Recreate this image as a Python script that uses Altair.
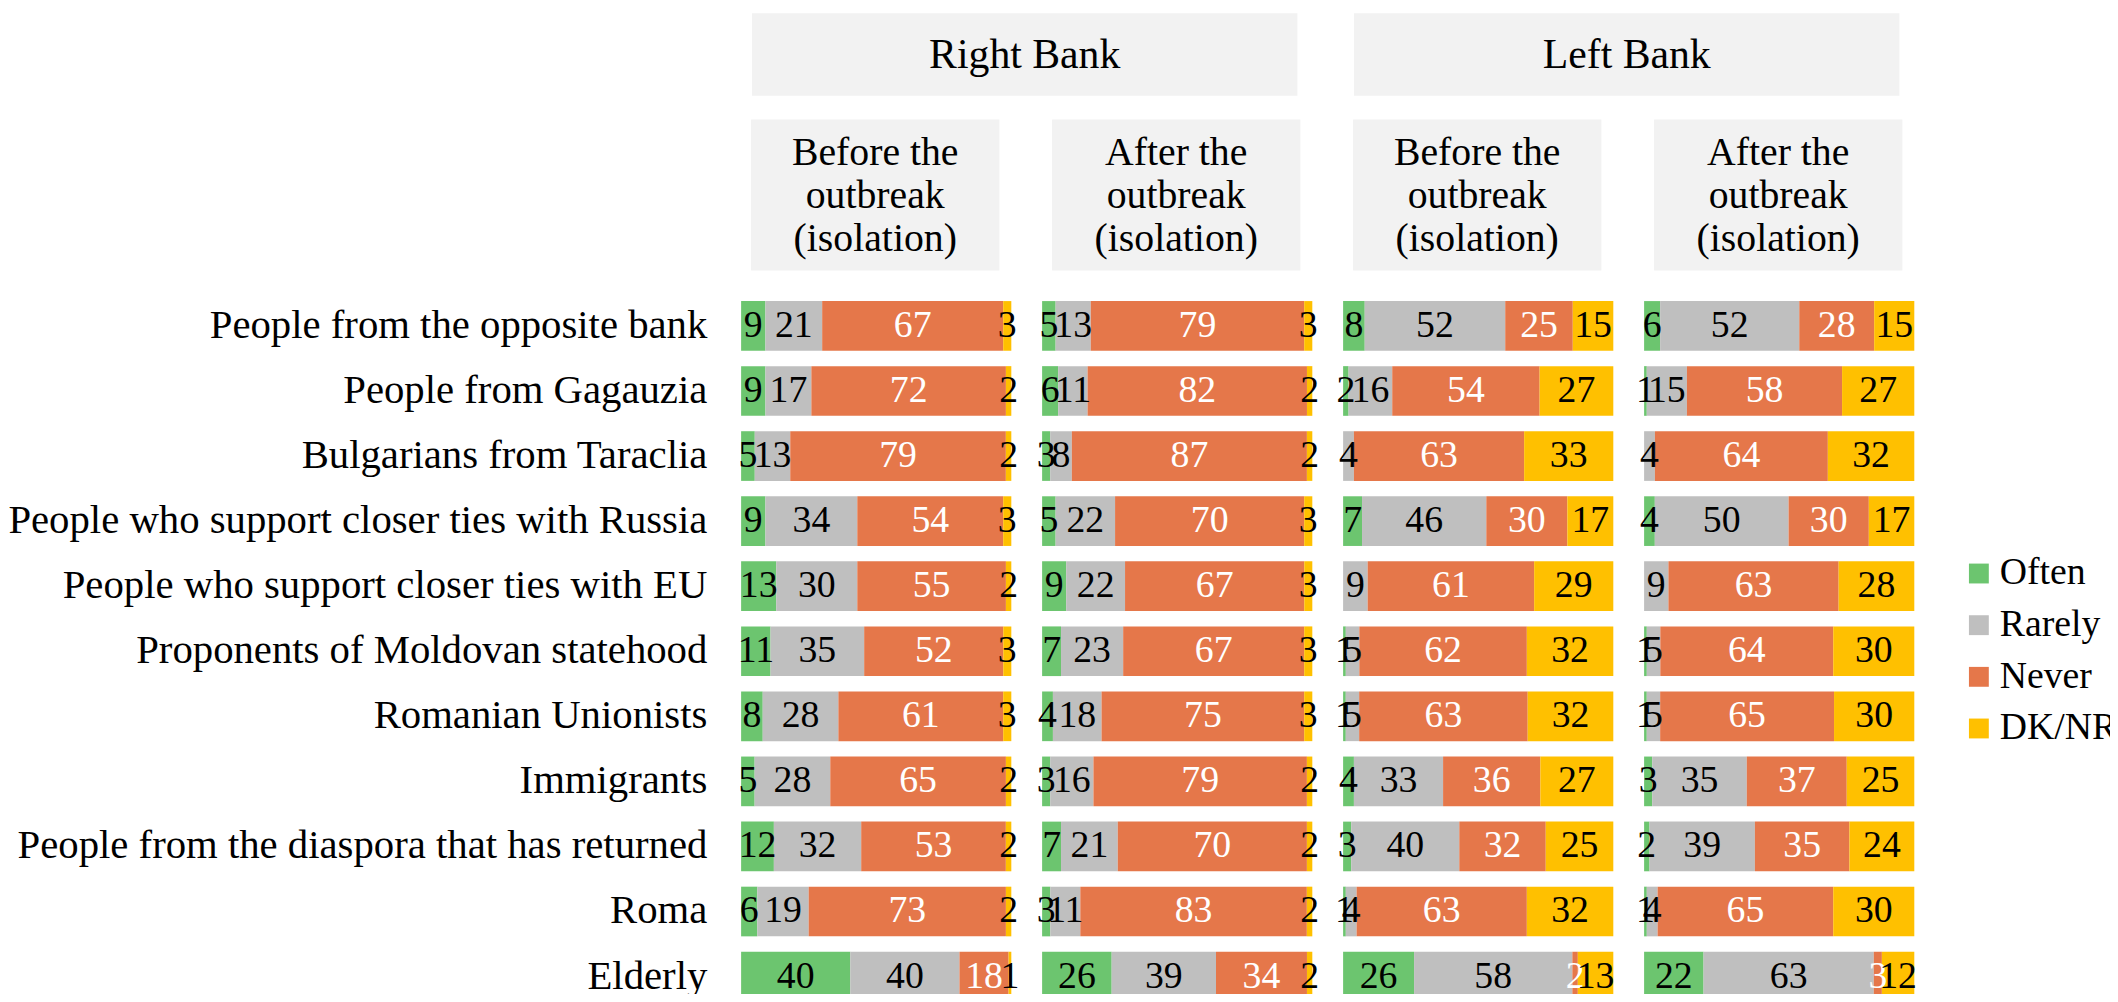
import altair as alt
import pandas as pd

# ---------------- data ----------------
categories = [
    "People from the opposite bank",
    "People from Gagauzia",
    "Bulgarians from Taraclia",
    "People who support closer ties with Russia",
    "People who support closer ties with EU",
    "Proponents of Moldovan statehood",
    "Romanian Unionists",
    "Immigrants",
    "People from the diaspora that has returned",
    "Roma",
    "Elderly",
]
responses = ["Often", "Rarely", "Never", "DK/NR"]
colors = ["#6CC56F", "#BFBFBF", "#E5774A", "#FFC000"]
banks = ["Right Bank", "Left Bank"]
periods = [["Before the", "outbreak", "(isolation)"], ["After the", "outbreak", "(isolation)"]]

rb_before_often = [9, 9, 5, 9, 13, 11, 8, 5, 12, 6, 40]
rb_before_rarely = [21, 17, 13, 34, 30, 35, 28, 28, 32, 19, 40]
rb_before_never = [67, 72, 79, 54, 55, 52, 61, 65, 53, 73, 18]
rb_before_dk = [3, 2, 2, 3, 2, 3, 3, 2, 2, 2, 1]

rb_after_often = [5, 6, 3, 5, 9, 7, 4, 3, 7, 3, 26]
rb_after_rarely = [13, 11, 8, 22, 22, 23, 18, 16, 21, 11, 39]
rb_after_never = [79, 82, 87, 70, 67, 67, 75, 79, 70, 83, 34]
rb_after_dk = [3, 2, 2, 3, 3, 3, 3, 2, 2, 2, 2]

lb_before_often = [8, 2, 0, 7, 0, 1, 1, 4, 3, 1, 26]
lb_before_rarely = [52, 16, 4, 46, 9, 5, 5, 33, 40, 4, 58]
lb_before_never = [25, 54, 63, 30, 61, 62, 63, 36, 32, 63, 2]
lb_before_dk = [15, 27, 33, 17, 29, 32, 32, 27, 25, 32, 13]

lb_after_often = [6, 1, 0, 4, 0, 1, 1, 3, 2, 1, 22]
lb_after_rarely = [52, 15, 4, 50, 9, 5, 5, 35, 39, 4, 63]
lb_after_never = [28, 58, 64, 30, 63, 64, 65, 37, 35, 65, 3]
lb_after_dk = [15, 27, 32, 17, 28, 30, 30, 25, 24, 30, 12]

panel_series = [
    ("rb_before", [rb_before_often, rb_before_rarely, rb_before_never, rb_before_dk]),
    ("rb_after", [rb_after_often, rb_after_rarely, rb_after_never, rb_after_dk]),
    ("lb_before", [lb_before_often, lb_before_rarely, lb_before_never, lb_before_dk]),
    ("lb_after", [lb_after_often, lb_after_rarely, lb_after_never, lb_after_dk]),
]

rows = []
for pid, series in panel_series:
    for r_i, (resp, vals) in enumerate(zip(responses, series)):
        for cat, v in zip(categories, vals):
            rows.append(dict(panel=pid, cat=cat, resp=resp, order=r_i, value=v))
df = pd.DataFrame(rows)

# ---------------- layout constants ----------------
FONT = "Liberation Serif"
W = 272      # panel width
H = 720.5    # panel height (11 bands of 65.5 px)
LW = 704     # label column width
HH = 261     # header row height
HEAD_FILL = "#F2F2F2"

one = pd.DataFrame({"k": [0]})
yscale = alt.Scale(domain=categories, paddingInner=0.2366, paddingOuter=0.1183)
xscale = alt.Scale(domain=[0, 1], nice=False, zero=False)

legend = alt.Legend(
    title=None, orient="none", legendX=1962, legendY=547,
    symbolType="square", symbolSize=400, symbolStrokeWidth=0,
    labelFont=FONT, labelFontSize=38, labelColor="black", labelOffset=2,
    rowPadding=14, padding=0,
)


def header(lines, bank=None):
    layers = []
    if bank is not None:
        layers.append(
            alt.Chart(one).mark_rect(color=HEAD_FILL).encode(
                x=alt.value(11), x2=alt.value(560), y=alt.value(2), y2=alt.value(85)
            )
        )
        layers.append(
            alt.Chart(one).mark_text(
                text=bank, font=FONT, fontSize=42, align="center",
                baseline="middle", color="black"
            ).encode(x=alt.value(285.5), y=alt.value(44))
        )
    layers.append(
        alt.Chart(one).mark_rect(color=HEAD_FILL).encode(
            x=alt.value(10), x2=alt.value(260), y=alt.value(109), y2=alt.value(261)
        )
    )
    layers.append(
        alt.Chart(one).mark_text(
            text=lines, font=FONT, fontSize=40, align="center",
            baseline="alphabetic", lineHeight=43, color="black"
        ).encode(x=alt.value(135), y=alt.value(155))
    )
    return alt.layer(*layers).properties(width=W, height=HH)


def panel(pid):
    base = (
        alt.Chart(df)
        .transform_filter(alt.datum.panel == pid)
        .transform_stack(
            stack="value", groupby=["cat"], as_=["x0", "x1"],
            offset="normalize", sort=[alt.SortField("order", order="ascending")]
        )
        .transform_calculate(mid="(datum.x0 + datum.x1) / 2")
    )
    y = alt.Y("cat:N", scale=yscale, axis=None)
    bars = base.mark_bar().encode(
        y=y,
        x=alt.X("x0:Q", scale=xscale, axis=None),
        x2="x1:Q",
        color=alt.Color("resp:N", scale=alt.Scale(domain=responses, range=colors), legend=legend),
    )
    text = base.transform_filter(alt.datum.value > 0).mark_text(
        font=FONT, fontSize=38, align="center", baseline="middle"
    ).encode(
        y=y,
        x=alt.X("mid:Q", scale=xscale, axis=None),
        text="value:Q",
        color=alt.condition(alt.datum.resp == "Never", alt.value("white"), alt.value("black")),
    )
    return alt.layer(bars, text).properties(width=W, height=H)


blank = alt.Chart(one).mark_rect(opacity=0).encode(
    x=alt.value(10), x2=alt.value(11), y=alt.value(10), y2=alt.value(11)
).properties(width=LW, height=HH)

labels = alt.Chart(pd.DataFrame({"cat": categories})).mark_text(
    align="right", baseline="middle", font=FONT, fontSize=41, color="black"
).encode(
    y=alt.Y("cat:N", scale=yscale, axis=None),
    x=alt.value(LW - 3),
    text="cat:N",
).properties(width=LW, height=H)

chart = alt.concat(
    blank,
    header(periods[0], banks[0]),
    header(periods[1]),
    header(periods[0], banks[1]),
    header(periods[1]),
    labels,
    panel("rb_before"),
    panel("rb_after"),
    panel("lb_before"),
    panel("lb_after"),
    columns=5,
    spacing={"row": 23, "column": 31},
    bounds="flush",
).properties(
    padding={"left": 0, "top": 0, "right": -8, "bottom": -19}
).configure(font=FONT).configure_view(strokeWidth=0, stroke="transparent")

chart.save("out.html", embed_options={"renderer": "svg", "actions": False})
